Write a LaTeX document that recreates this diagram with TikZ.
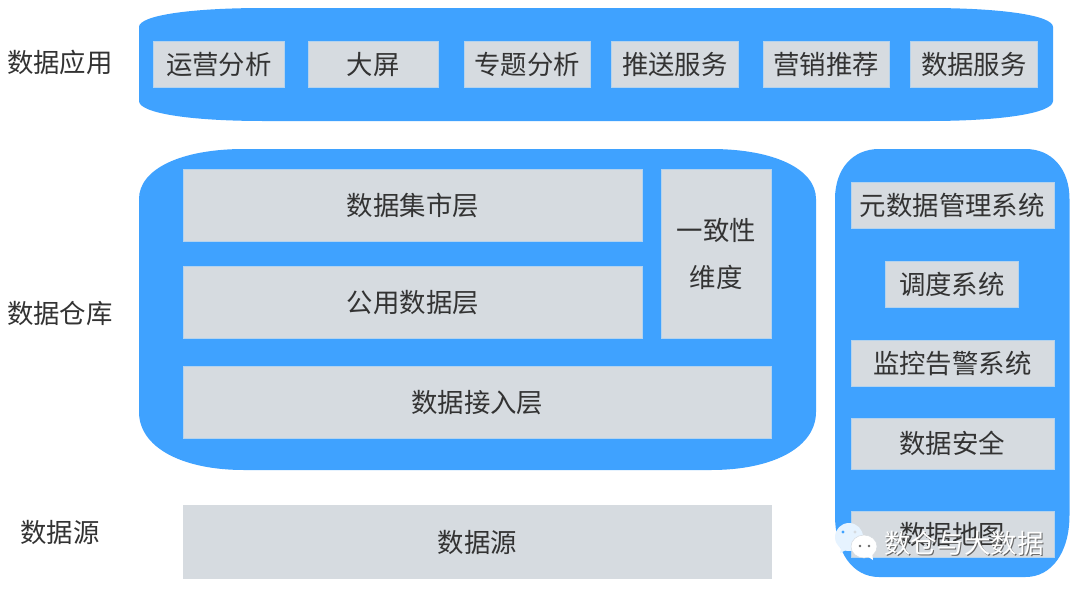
\documentclass[tikz,border=0pt]{standalone}
\usepackage{fontspec}
\setmainfont{Noto Sans CJK SC}
\usepackage{xcolor}
\usetikzlibrary{positioning,calc}
\definecolor{PanelBlue}{HTML}{3FA2FF}
\definecolor{CellGrey}{HTML}{D6DBE0}
\definecolor{CellEdge}{HTML}{B4D3EE}
\definecolor{InkGrey}{HTML}{333333}
\definecolor{ShadowGrey}{HTML}{666666}
\definecolor{BubblePale}{HTML}{E6F3FF}
% x0 y0 x1 y1 rx ry-top ry-bottom
\newcommand{\RoundPanel}[7]{%
  \fill[PanelBlue] (#1+#5,#2) -- (#3-#5,#2)
    .. controls (#3-0.4*#5,#2) and (#3,#2+0.4*#6) .. (#3,#2+#6)
    -- (#3,#4-#7)
    .. controls (#3,#4-0.4*#7) and (#3-0.4*#5,#4) .. (#3-#5,#4)
    -- (#1+#5,#4)
    .. controls (#1+0.4*#5,#4) and (#1,#4-0.4*#7) .. (#1,#4-#7)
    -- (#1,#2+#6)
    .. controls (#1,#2+0.4*#6) and (#1+0.4*#5,#2) .. (#1+#5,#2) -- cycle;}
\begin{document}
\begin{tikzpicture}[
  x=1pt,y=-1pt,
  every node/.style={font=\fontsize{26.4}{47}\selectfont,align=center,text=InkGrey,inner sep=0pt},
  cell/.style={rectangle,fill=CellGrey,draw=CellEdge,line width=0.6pt},
  rowcell/.style={cell,minimum height=46.5pt},
  sidecell/.style={cell,minimum width=203pt,minimum height=46.5pt},
  layercell/.style={cell,minimum height=72.5pt},
  sidelabel/.style={text=InkGrey},
  wmark/.style={text=white,font=\fontsize{26.6}{33}\selectfont}
]
\useasboundingbox (0,0) rectangle (1080,592);
\fill[white] (0,0) rectangle (1080,592);
\RoundPanel{139}{8}{1053}{121}{125}{19}{20}
\RoundPanel{139}{149}{816}{470}{105}{50}{58}
\RoundPanel{835}{149}{1069.5}{577}{44}{50}{62}
% data application
\node[sidelabel] (appLabel) at (59.8,62.5) {数据应用};
\node[rowcell,minimum width=131.5pt] (ops) at (218.8,64.5) {运营分析};
\node[rowcell,minimum width=130.5pt] (screen) at (373.2,64.5) {大屏};
\node[rowcell,minimum width=126.5pt] (topic) at (527.2,64.5) {专题分析};
\node[rowcell,minimum width=127.5pt] (push) at (674.8,64.5) {推送服务};
\node[rowcell,minimum width=126.5pt] (market) at (826.2,64.5) {营销推荐};
\node[rowcell,minimum width=127.5pt] (service) at (973.8,64.5) {数据服务};
% warehouse
\node[sidelabel] (dwLabel) at (59.8,313.5) {数据仓库};
\node[layercell,minimum width=459.5pt] (mart) at (412.8,205.3) {数据集市层};
\node[layercell,minimum width=459.5pt] (common) at (412.8,302.3) {公用数据层};
\node[cell,minimum width=110.5pt,minimum height=169.5pt] (dim) at (716.3,253.8) {一致性\\维度};
\node[layercell,minimum width=588.5pt] (ingest) at (477.3,402.3) {数据接入层};
% source
\node[sidelabel] (srcLabel) at (59.8,532.5) {数据源};
\node[layercell,minimum width=588.5pt,draw=CellGrey] (source) at (477.3,542) {\raisebox{-1.5pt}{数据源}};
% side systems
\node[sidecell] (meta) at (952.3,205.3) {元数据管理系统};
\node[rowcell,minimum width=133.5pt] (sched) at (951.8,284.3) {调度系统};
\node[sidecell] (monitor) at (952.3,363.3) {监控告警系统};
\node[sidecell,minimum height=51.5pt] (safe) at (952.3,443.8) {数据安全};
\node[sidecell] (map) at (952.3,534.3) {数据地图};
% watermark
\fill[BubblePale] (849,537) ellipse (14pt and 14pt);
\fill[BubblePale] (840,553) -- (842,545) -- (848,549) -- cycle;
\fill[PanelBlue] (843,532) circle (1.7pt);
\fill[CellGrey] (855,532) circle (1.7pt);
\fill[white,draw=CellGrey,line width=0.5pt] (864,546.5) ellipse (13pt and 11.5pt);
\fill[white] (867,556) -- (873,560) -- (872,552) -- cycle;
\fill[ShadowGrey] (860,546) circle (1.3pt);
\fill[ShadowGrey] (869,546) circle (1.3pt);
\node[wmark,text=ShadowGrey] (markShadow) at (965,544) {数仓与大数据};
\node[wmark] (markText) at (964,543) {数仓与大数据};
\end{tikzpicture}
\end{document}
